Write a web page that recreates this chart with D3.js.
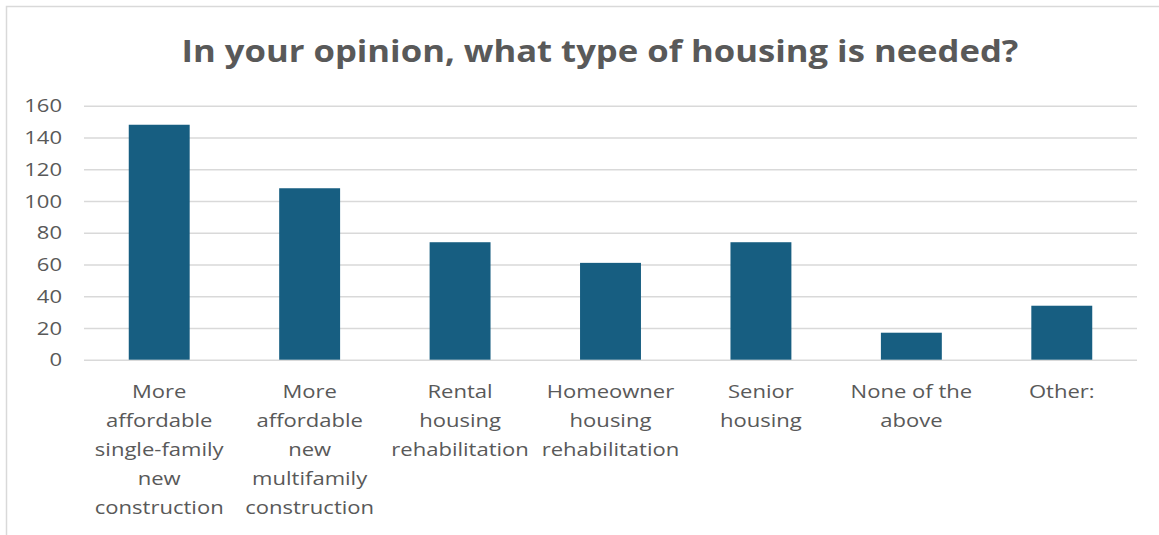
<!DOCTYPE html>
<html>
<head>
<meta charset="utf-8">
<script src="https://cdn.jsdelivr.net/npm/d3@7"></script>
<style>
  html, body { margin: 0; padding: 0; background: #fff; }
  svg { display: block; }
</style>
</head>
<body>
<svg id="chart" width="1159" height="535"></svg>
<script>
const title = "In your opinion, what type of housing is needed?";
const categories = [
  "More affordable single-family new construction",
  "More affordable new multifamily construction",
  "Rental housing rehabilitation",
  "Homeowner housing rehabilitation",
  "Senior housing",
  "None of the above",
  "Other:"
];
const values = [148, 108, 74, 61, 74, 17, 34];
const yTicks = [0, 20, 40, 60, 80, 100, 120, 140, 160];

const W = 1159, H = 535;
const margin = { left: 84, right: 22, top: 105.7, bottom: 175.3 };
const svg = d3.select("#chart");
const textColor = "#595959";
const labelFont = "'Open Sans', sans-serif";
const stretch = 1.16; // reference text is drawn slightly wide

// chart border
svg.append("rect")
  .attr("x", 6.5).attr("y", 6.5)
  .attr("width", W + 10).attr("height", H + 10)
  .attr("fill", "#fff").attr("stroke", "#d9d9d9").attr("stroke-width", 1.5);

const x = d3.scaleBand()
  .domain(categories)
  .range([margin.left, W - margin.right])
  .paddingInner(0.595)
  .paddingOuter(0.2975);

const y = d3.scaleLinear()
  .domain([0, 160])
  .range([H - margin.bottom, margin.top]);

// gridlines
const grid = svg.append("g")
  .attr("transform", `translate(${margin.left},0)`)
  .call(d3.axisLeft(y).tickValues(yTicks).tickSize(-(W - margin.right - margin.left)).tickFormat(""));
grid.select(".domain").remove();
grid.selectAll("line").attr("stroke", "#d9d9d9").attr("stroke-width", 1.5);

// y tick labels
const yAxis = svg.append("g")
  .attr("transform", `translate(62,0)`)
  .call(d3.axisLeft(y).tickValues(yTicks).tickSize(0).tickPadding(0));
yAxis.select(".domain").remove();
yAxis.selectAll("text")
  .attr("fill", textColor)
  .attr("font-family", labelFont)
  .attr("font-size", 19)
  .attr("transform", `scale(${stretch},1)`);

// bars
svg.append("g").selectAll("rect")
  .data(values)
  .join("rect")
  .attr("x", (d, i) => x(categories[i]))
  .attr("y", d => y(d))
  .attr("width", x.bandwidth())
  .attr("height", d => y(0) - y(d))
  .attr("fill", "#175e81");

// category labels with wrapping
const wrapWidth = 115;
const measurer = svg.append("text")
  .attr("font-family", labelFont).attr("font-size", 19).attr("visibility", "hidden");
function wrap(str) {
  const words = str.split(" ");
  const lines = [];
  let cur = "";
  words.forEach(w => {
    const test = cur ? cur + " " + w : w;
    measurer.text(test);
    if (cur && measurer.node().getComputedTextLength() > wrapWidth) {
      lines.push(cur);
      cur = w;
    } else {
      cur = test;
    }
  });
  if (cur) lines.push(cur);
  return lines;
}
const xAxis = svg.append("g")
  .attr("transform", `translate(0,${y(0)})`)
  .call(d3.axisBottom(x).tickSize(0).tickFormat(""));
xAxis.select(".domain").remove();
xAxis.selectAll(".tick").each(function(d) {
  const lines = wrap(d);
  const t = d3.select(this).append("text")
    .attr("fill", textColor)
    .attr("font-family", labelFont)
    .attr("font-size", 19)
    .attr("text-anchor", "middle")
    .attr("transform", `scale(${stretch},1)`);
  lines.forEach((ln, k) => {
    t.append("tspan").attr("x", 0).attr("y", 38.5 + k * 29).text(ln);
  });
});
measurer.remove();

// title
svg.append("text")
  .attr("transform", `translate(600,62) scale(1.155,1)`)
  .attr("text-anchor", "middle")
  .attr("font-family", "'Open Sans', sans-serif")
  .attr("font-weight", 700)
  .attr("font-size", 30)
  .attr("fill", textColor)
  .text(title);
</script>
</body>
</html>
